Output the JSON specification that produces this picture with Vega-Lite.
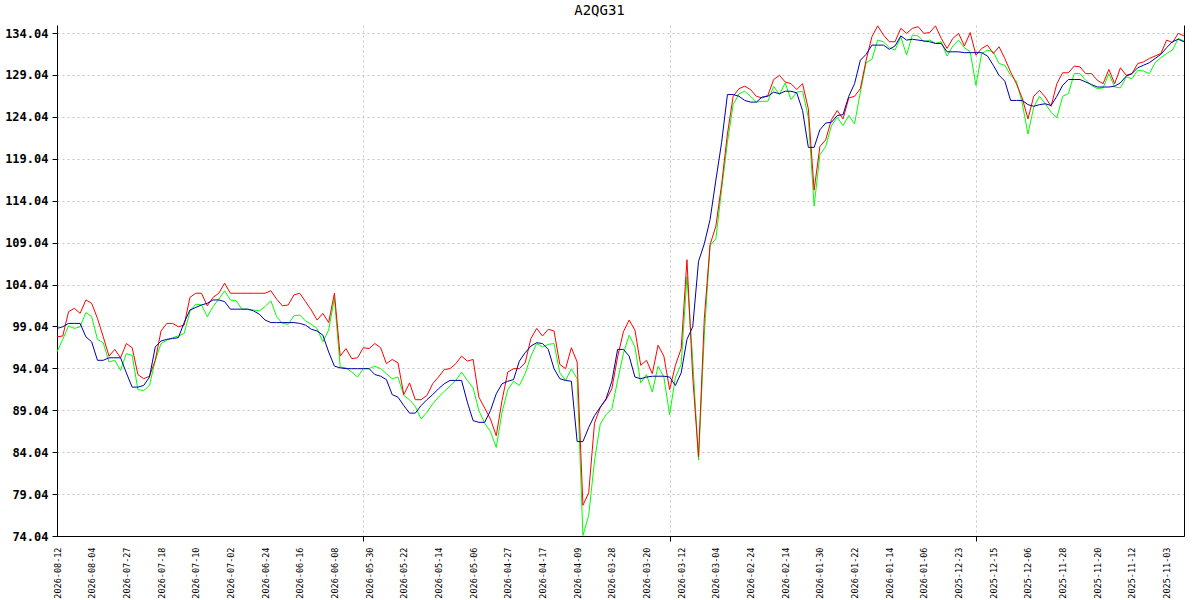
{
  "$schema": "https://vega.github.io/schema/vega-lite/v6.json",
  "width": 1127,
  "height": 511,
  "autosize": {"type": "none"},
  "padding": {"left": 57, "top": 25, "right": 16, "bottom": 64},
  "background": "white",
  "title": {"text": "A2QG31", "font": "DejaVu Sans Mono", "fontSize": 14, "fontWeight": "normal", "color": "black", "anchor": "middle", "dx": -21, "dy": 13, "offset": 8, "baseline": "alphabetic"},
  "config": {"view": {"stroke": null}},
  "data": {"values": [
    {"d":"2026-08-12","r":97.8,"g":96.0,"b":98.8},
    {"d":"2026-08-11","r":97.9,"g":97.5,"b":99.0},
    {"d":"2026-08-10","r":100.8,"g":99.1,"b":99.4},
    {"d":"2026-08-07","r":101.2,"g":98.8,"b":99.4},
    {"d":"2026-08-06","r":100.6,"g":99.0,"b":99.4},
    {"d":"2026-08-05","r":102.2,"g":100.7,"b":97.8},
    {"d":"2026-08-04","r":101.8,"g":100.2,"b":97.2},
    {"d":"2026-08-03","r":100.0,"g":97.5,"b":95.0},
    {"d":"2026-07-31","r":97.8,"g":97.1,"b":95.0},
    {"d":"2026-07-30","r":95.5,"g":94.8,"b":95.3},
    {"d":"2026-07-29","r":96.3,"g":95.0,"b":95.3},
    {"d":"2026-07-28","r":95.3,"g":93.8,"b":95.3},
    {"d":"2026-07-27","r":97.0,"g":95.8,"b":93.5},
    {"d":"2026-07-24","r":96.5,"g":95.6,"b":91.8},
    {"d":"2026-07-23","r":93.3,"g":91.5,"b":91.8},
    {"d":"2026-07-22","r":92.8,"g":91.4,"b":92.0},
    {"d":"2026-07-21","r":93.1,"g":92.0,"b":93.0},
    {"d":"2026-07-20","r":95.0,"g":95.0,"b":96.6},
    {"d":"2026-07-18","r":98.5,"g":97.0,"b":97.3},
    {"d":"2026-07-17","r":99.4,"g":97.4,"b":97.5},
    {"d":"2026-07-16","r":99.4,"g":97.7,"b":97.6},
    {"d":"2026-07-15","r":99.0,"g":97.9,"b":97.7},
    {"d":"2026-07-14","r":99.2,"g":98.2,"b":99.5},
    {"d":"2026-07-13","r":102.5,"g":100.8,"b":101.0},
    {"d":"2026-07-10","r":103.0,"g":101.7,"b":101.3},
    {"d":"2026-07-09","r":103.0,"g":101.6,"b":101.6},
    {"d":"2026-07-08","r":101.5,"g":100.2,"b":101.8},
    {"d":"2026-07-07","r":102.5,"g":101.4,"b":102.2},
    {"d":"2026-07-06","r":103.0,"g":102.3,"b":102.2},
    {"d":"2026-07-03","r":104.2,"g":103.3,"b":102.0},
    {"d":"2026-07-02","r":103.0,"g":102.2,"b":101.1},
    {"d":"2026-07-01","r":103.0,"g":102.1,"b":101.1},
    {"d":"2026-06-30","r":103.0,"g":101.1,"b":101.1},
    {"d":"2026-06-29","r":103.0,"g":101.1,"b":101.1},
    {"d":"2026-06-26","r":103.0,"g":101.0,"b":100.9},
    {"d":"2026-06-25","r":103.0,"g":100.9,"b":100.5},
    {"d":"2026-06-24","r":103.0,"g":101.4,"b":99.8},
    {"d":"2026-06-23","r":103.3,"g":102.1,"b":99.5},
    {"d":"2026-06-22","r":102.3,"g":100.2,"b":99.5},
    {"d":"2026-06-19","r":101.5,"g":99.4,"b":99.5},
    {"d":"2026-06-18","r":101.6,"g":99.3,"b":99.5},
    {"d":"2026-06-17","r":102.8,"g":100.3,"b":99.5},
    {"d":"2026-06-16","r":103.0,"g":100.4,"b":99.4},
    {"d":"2026-06-15","r":102.0,"g":99.7,"b":99.2},
    {"d":"2026-06-12","r":101.0,"g":99.3,"b":98.7},
    {"d":"2026-06-11","r":99.8,"g":98.8,"b":98.5},
    {"d":"2026-06-10","r":100.6,"g":97.2,"b":98.0},
    {"d":"2026-06-09","r":99.5,"g":98.6,"b":96.0},
    {"d":"2026-06-08","r":103.0,"g":102.4,"b":94.3},
    {"d":"2026-06-05","r":95.5,"g":94.2,"b":94.1},
    {"d":"2026-06-04","r":96.4,"g":94.1,"b":94.0},
    {"d":"2026-06-03","r":95.2,"g":93.6,"b":94.0},
    {"d":"2026-06-02","r":95.3,"g":93.0,"b":94.0},
    {"d":"2026-06-01","r":96.5,"g":94.0,"b":94.0},
    {"d":"2026-05-30","r":96.4,"g":94.0,"b":94.0},
    {"d":"2026-05-29","r":97.0,"g":94.3,"b":93.3},
    {"d":"2026-05-28","r":96.5,"g":94.0,"b":93.1},
    {"d":"2026-05-27","r":94.6,"g":93.4,"b":92.7},
    {"d":"2026-05-26","r":95.1,"g":92.8,"b":90.9},
    {"d":"2026-05-25","r":94.7,"g":93.0,"b":90.6},
    {"d":"2026-05-22","r":90.9,"g":90.8,"b":89.6},
    {"d":"2026-05-21","r":92.3,"g":90.3,"b":88.7},
    {"d":"2026-05-20","r":90.3,"g":89.5,"b":88.7},
    {"d":"2026-05-19","r":90.3,"g":88.0,"b":89.6},
    {"d":"2026-05-18","r":90.8,"g":88.8,"b":90.3},
    {"d":"2026-05-15","r":92.2,"g":89.8,"b":90.9},
    {"d":"2026-05-14","r":93.0,"g":90.6,"b":91.6},
    {"d":"2026-05-13","r":93.9,"g":91.3,"b":92.2},
    {"d":"2026-05-12","r":94.0,"g":91.9,"b":92.6},
    {"d":"2026-05-11","r":94.6,"g":92.6,"b":92.6},
    {"d":"2026-05-08","r":95.5,"g":93.6,"b":92.6},
    {"d":"2026-05-07","r":94.9,"g":92.6,"b":90.0},
    {"d":"2026-05-06","r":95.1,"g":91.7,"b":87.8},
    {"d":"2026-05-05","r":90.6,"g":89.0,"b":87.6},
    {"d":"2026-05-04","r":89.3,"g":87.5,"b":87.6},
    {"d":"2026-05-01","r":88.0,"g":86.5,"b":89.0},
    {"d":"2026-04-30","r":86.0,"g":84.6,"b":91.0},
    {"d":"2026-04-29","r":90.2,"g":88.8,"b":92.2},
    {"d":"2026-04-27","r":93.6,"g":91.5,"b":92.5},
    {"d":"2026-04-24","r":94.0,"g":92.5,"b":92.7},
    {"d":"2026-04-23","r":94.0,"g":92.0,"b":94.9},
    {"d":"2026-04-22","r":94.7,"g":93.4,"b":95.9},
    {"d":"2026-04-21","r":97.6,"g":95.5,"b":96.7},
    {"d":"2026-04-20","r":98.8,"g":97.0,"b":97.1},
    {"d":"2026-04-17","r":97.9,"g":96.6,"b":97.0},
    {"d":"2026-04-16","r":98.7,"g":96.9,"b":96.3},
    {"d":"2026-04-15","r":98.5,"g":97.0,"b":94.0},
    {"d":"2026-04-14","r":94.5,"g":93.5,"b":92.8},
    {"d":"2026-04-13","r":94.0,"g":92.6,"b":92.6},
    {"d":"2026-04-10","r":96.5,"g":94.0,"b":92.5},
    {"d":"2026-04-09","r":94.8,"g":92.8,"b":85.3},
    {"d":"2026-04-08","r":77.7,"g":74.1,"b":85.3},
    {"d":"2026-04-07","r":79.2,"g":76.5,"b":87.0},
    {"d":"2026-04-02","r":87.5,"g":83.0,"b":88.4},
    {"d":"2026-04-01","r":89.4,"g":87.4,"b":89.4},
    {"d":"2026-03-31","r":90.3,"g":88.5,"b":90.4},
    {"d":"2026-03-28","r":91.6,"g":89.2,"b":92.5},
    {"d":"2026-03-27","r":95.4,"g":92.6,"b":96.3},
    {"d":"2026-03-26","r":98.4,"g":95.8,"b":96.3},
    {"d":"2026-03-25","r":99.8,"g":98.0,"b":95.5},
    {"d":"2026-03-24","r":98.6,"g":96.6,"b":93.0},
    {"d":"2026-03-23","r":94.4,"g":92.3,"b":92.8},
    {"d":"2026-03-20","r":95.0,"g":93.3,"b":93.0},
    {"d":"2026-03-19","r":93.4,"g":91.2,"b":93.1},
    {"d":"2026-03-18","r":96.8,"g":94.3,"b":93.1},
    {"d":"2026-03-17","r":95.5,"g":93.0,"b":93.1},
    {"d":"2026-03-16","r":91.5,"g":88.5,"b":93.0},
    {"d":"2026-03-13","r":94.4,"g":93.0,"b":92.0},
    {"d":"2026-03-12","r":96.4,"g":94.5,"b":93.5},
    {"d":"2026-03-11","r":107.0,"g":105.0,"b":97.5},
    {"d":"2026-03-10","r":93.0,"g":95.0,"b":99.0},
    {"d":"2026-03-09","r":83.5,"g":83.1,"b":106.8},
    {"d":"2026-03-06","r":100.0,"g":98.0,"b":108.9},
    {"d":"2026-03-05","r":108.8,"g":108.7,"b":111.8},
    {"d":"2026-03-04","r":111.0,"g":109.5,"b":116.5},
    {"d":"2026-03-03","r":116.0,"g":115.4,"b":121.0},
    {"d":"2026-03-02","r":122.0,"g":121.0,"b":126.7},
    {"d":"2026-02-27","r":126.5,"g":125.5,"b":126.7},
    {"d":"2026-02-26","r":127.4,"g":126.8,"b":126.5},
    {"d":"2026-02-25","r":127.7,"g":127.1,"b":126.0},
    {"d":"2026-02-24","r":127.3,"g":126.5,"b":125.8},
    {"d":"2026-02-23","r":126.5,"g":125.8,"b":125.8},
    {"d":"2026-02-20","r":126.3,"g":125.9,"b":126.4},
    {"d":"2026-02-19","r":126.6,"g":125.9,"b":126.5},
    {"d":"2026-02-18","r":128.5,"g":127.7,"b":127.0},
    {"d":"2026-02-17","r":129.0,"g":126.7,"b":126.8},
    {"d":"2026-02-14","r":128.2,"g":128.1,"b":127.1},
    {"d":"2026-02-12","r":128.0,"g":126.1,"b":127.1},
    {"d":"2026-02-10","r":127.3,"g":127.0,"b":126.9},
    {"d":"2026-02-06","r":128.0,"g":127.1,"b":124.8},
    {"d":"2026-02-04","r":125.0,"g":124.0,"b":120.4},
    {"d":"2026-02-02","r":115.3,"g":113.4,"b":120.4},
    {"d":"2026-01-30","r":120.5,"g":119.5,"b":122.5},
    {"d":"2026-01-29","r":121.3,"g":120.5,"b":123.3},
    {"d":"2026-01-28","r":123.7,"g":123.0,"b":123.4},
    {"d":"2026-01-27","r":124.8,"g":124.0,"b":124.2},
    {"d":"2026-01-26","r":123.8,"g":123.0,"b":124.3},
    {"d":"2026-01-23","r":126.3,"g":124.2,"b":126.5},
    {"d":"2026-01-22","r":126.5,"g":123.2,"b":128.0},
    {"d":"2026-01-21","r":127.4,"g":127.0,"b":130.8},
    {"d":"2026-01-20","r":130.8,"g":130.5,"b":131.5},
    {"d":"2026-01-19","r":133.6,"g":130.9,"b":132.6},
    {"d":"2026-01-16","r":134.9,"g":133.2,"b":132.6},
    {"d":"2026-01-15","r":133.8,"g":133.0,"b":132.6},
    {"d":"2026-01-14","r":133.0,"g":132.3,"b":132.1},
    {"d":"2026-01-13","r":133.0,"g":132.0,"b":132.5},
    {"d":"2026-01-12","r":134.6,"g":133.6,"b":133.7},
    {"d":"2026-01-09","r":134.0,"g":131.4,"b":133.2},
    {"d":"2026-01-08","r":134.6,"g":133.8,"b":133.3},
    {"d":"2026-01-07","r":134.8,"g":133.7,"b":133.2},
    {"d":"2026-01-06","r":134.0,"g":133.0,"b":133.1},
    {"d":"2026-01-05","r":134.1,"g":133.2,"b":133.0},
    {"d":"2026-01-02","r":134.9,"g":132.8,"b":132.8},
    {"d":"2025-12-30","r":133.4,"g":133.0,"b":132.8},
    {"d":"2025-12-29","r":132.2,"g":131.3,"b":131.8},
    {"d":"2025-12-24","r":133.4,"g":132.5,"b":131.8},
    {"d":"2025-12-23","r":134.0,"g":133.2,"b":131.8},
    {"d":"2025-12-22","r":132.5,"g":132.3,"b":131.7},
    {"d":"2025-12-19","r":134.1,"g":131.8,"b":131.7},
    {"d":"2025-12-18","r":131.4,"g":127.8,"b":131.7},
    {"d":"2025-12-17","r":132.2,"g":131.6,"b":131.7},
    {"d":"2025-12-16","r":132.6,"g":132.0,"b":131.3},
    {"d":"2025-12-15","r":131.6,"g":131.8,"b":130.2},
    {"d":"2025-12-12","r":132.4,"g":130.4,"b":129.0},
    {"d":"2025-12-11","r":131.0,"g":130.2,"b":128.3},
    {"d":"2025-12-10","r":129.4,"g":129.0,"b":126.0},
    {"d":"2025-12-09","r":128.0,"g":128.3,"b":126.0},
    {"d":"2025-12-08","r":126.3,"g":125.7,"b":126.0},
    {"d":"2025-12-06","r":123.8,"g":122.0,"b":125.5},
    {"d":"2025-12-05","r":126.5,"g":125.2,"b":125.3},
    {"d":"2025-12-04","r":127.2,"g":126.5,"b":125.5},
    {"d":"2025-12-03","r":126.4,"g":125.6,"b":125.6},
    {"d":"2025-12-02","r":125.3,"g":124.6,"b":125.4},
    {"d":"2025-12-01","r":128.0,"g":123.9,"b":126.5},
    {"d":"2025-11-28","r":129.3,"g":126.5,"b":127.8},
    {"d":"2025-11-27","r":129.3,"g":126.8,"b":128.5},
    {"d":"2025-11-26","r":130.1,"g":129.2,"b":128.5},
    {"d":"2025-11-25","r":130.0,"g":129.2,"b":128.5},
    {"d":"2025-11-24","r":129.2,"g":128.4,"b":128.2},
    {"d":"2025-11-21","r":129.2,"g":127.8,"b":127.9},
    {"d":"2025-11-20","r":128.4,"g":127.4,"b":127.6},
    {"d":"2025-11-19","r":128.0,"g":127.5,"b":127.6},
    {"d":"2025-11-18","r":129.7,"g":129.2,"b":127.6},
    {"d":"2025-11-17","r":128.0,"g":127.6,"b":127.7},
    {"d":"2025-11-14","r":129.9,"g":127.5,"b":128.1},
    {"d":"2025-11-13","r":129.0,"g":128.8,"b":128.9},
    {"d":"2025-11-12","r":129.2,"g":128.6,"b":129.2},
    {"d":"2025-11-11","r":130.4,"g":129.6,"b":129.9},
    {"d":"2025-11-10","r":130.6,"g":129.5,"b":130.2},
    {"d":"2025-11-07","r":131.0,"g":129.2,"b":130.5},
    {"d":"2025-11-06","r":131.3,"g":130.5,"b":131.0},
    {"d":"2025-11-05","r":131.6,"g":131.1,"b":131.5},
    {"d":"2025-11-03","r":133.2,"g":131.6,"b":132.3},
    {"d":"2025-10-31","r":132.9,"g":132.0,"b":133.0},
    {"d":"2025-10-30","r":134.0,"g":133.4,"b":133.3},
    {"d":"2025-10-29","r":133.7,"g":133.1,"b":133.0}
  ]},
  "resolve": {"axis": {"x": "independent", "y": "independent"}},
  "layer": [
    {
      "mark": {"type": "line", "color": "#00ff00", "strokeWidth": 1},
      "encoding": {
        "x": {"field": "d", "type": "ordinal", "sort": "descending",
          "scale": {"type": "point", "padding": 0},
          "axis": {"title": null, "orient": "bottom", "values": ["2026-08-12","2026-08-04","2026-07-27","2026-07-18","2026-07-10","2026-07-02","2026-06-24","2026-06-16","2026-06-08","2026-05-30","2026-05-22","2026-05-14","2026-05-06","2026-04-27","2026-04-17","2026-04-09","2026-03-28","2026-03-20","2026-03-12","2026-03-04","2026-02-24","2026-02-14","2026-01-30","2026-01-22","2026-01-14","2026-01-06","2025-12-23","2025-12-15","2025-12-06","2025-11-28","2025-11-20","2025-11-12","2025-11-03"],
            "labelAngle": 270, "labelAlign": "right", "labelBaseline": "middle", "labelFont": "DejaVu Sans Mono", "labelFontSize": 8.5, "labelColor": "black", "labelPadding": 11, "labelOverlap": false, "labelBound": false, "labelFlush": false,
            "ticks": false, "tickSize": 0, "grid": false, "domain": true, "domainColor": "black", "domainWidth": 1}},
        "y": {"field": "g", "type": "quantitative",
          "scale": {"domain": [74.04, 135.0], "nice": false, "zero": false},
          "axis": {"title": null, "orient": "left", "values": [74.04, 79.04, 84.04, 89.04, 94.04, 99.04, 104.04, 109.04, 114.04, 119.04, 124.04, 129.04, 134.04], "format": ".2f",
            "labelFont": "DejaVu Sans Mono", "labelFontSize": 12, "labelFontWeight": "bold", "labelColor": "black", "labelPadding": 4, "labelOverlap": false, "labelFlush": false,
            "ticks": true, "tickSize": 5, "tickColor": "black", "domainColor": "black", "domainWidth": 1,
            "grid": true, "gridColor": "#c4c4c4", "gridDash": [2, 3], "gridWidth": 1}}
      }
    },
    {
      "mark": {"type": "line", "color": "#ff0000", "strokeWidth": 1},
      "encoding": {
        "x": {"field": "d", "type": "ordinal", "sort": "descending",
          "scale": {"type": "point", "padding": 0},
          "axis": {"title": null, "orient": "bottom", "values": ["2026-06-01", "2026-03-16", "2025-12-18"], "labels": false, "domain": false,
            "ticks": true, "tickSize": 5, "tickColor": "black",
            "grid": true, "gridColor": "#c4c4c4", "gridDash": [2, 3], "gridWidth": 1}},
        "y": {"field": "r", "type": "quantitative",
          "scale": {"domain": [74.04, 135.0], "nice": false, "zero": false},
          "axis": {"title": null, "orient": "right", "labels": false, "ticks": false, "grid": false, "domain": true, "domainColor": "black", "domainWidth": 1}}
      }
    },
    {
      "mark": {"type": "line", "color": "#0000a8", "strokeWidth": 1},
      "encoding": {
        "x": {"field": "d", "type": "ordinal", "sort": "descending",
          "scale": {"type": "point", "padding": 0}, "axis": null},
        "y": {"field": "b", "type": "quantitative",
          "scale": {"domain": [74.04, 135.0], "nice": false, "zero": false}, "axis": null}
      }
    }
  ]
}
